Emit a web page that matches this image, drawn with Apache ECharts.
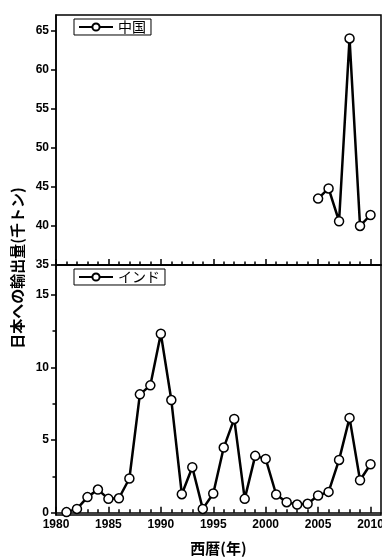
<!DOCTYPE html>
<html>
<head>
<meta charset="utf-8">
<script src="https://cdn.jsdelivr.net/npm/echarts@6/dist/echarts.min.js"></script>
<style>
  html, body { margin: 0; padding: 0; background: #fff; }
  #chart { width: 382px; height: 559px; }
</style>
</head>
<body>
<div id="chart"></div>
<script>
const years = [1981, 1982, 1983, 1984, 1985, 1986, 1987, 1988, 1989, 1990,
  1991, 1992, 1993, 1994, 1995, 1996, 1997, 1998, 1999, 2000,
  2001, 2002, 2003, 2004, 2005, 2006, 2007, 2008, 2009, 2010]
const indiaValues = [0.05, 0.27, 1.08, 1.6, 0.96, 1.0, 2.36, 8.15, 8.77, 12.32,
  7.76, 1.28, 3.14, 0.27, 1.33, 4.49, 6.46, 0.96, 3.92, 3.71,
  1.26, 0.73, 0.57, 0.62, 1.19, 1.44, 3.64, 6.53, 2.24, 3.34]
const chinaYears = [2005, 2006, 2007, 2008, 2009, 2010]
const chinaValues = [43.5, 44.8, 40.6, 64.0, 40.0, 41.4]

const yearTicks = [1980, 1985, 1990, 1995, 2000, 2005, 2010]
const yearMinorTicks = years.concat([1980])
const chinaTicks = [35, 40, 45, 50, 55, 60, 65]
const indiaTicks = [0, 5, 10, 15]
const indiaMinorTicks = [2.5, 7.5, 12.5]

const numFont = { fontFamily: 'Liberation Sans', fontWeight: 'bold', fontSize: 12, color: '#000' }
const jpFont = 'Noto Sans CJK JP'
const black = { color: '#000', width: 1.5 }

const chart = echarts.init(document.getElementById('chart'))

function xAxes(gridIndex, withLabels) {
  return [
    {
      type: 'value', gridIndex, position: 'bottom', min: 1980, max: 2011,
      axisLine: { show: true, lineStyle: black },
      axisTick: { show: true, inside: true, length: 6, lineStyle: black, customValues: yearTicks },
      axisLabel: withLabels
        ? Object.assign({ margin: 4, customValues: yearTicks, formatter: v => String(v) }, numFont)
        : { show: false },
      splitLine: { show: false },
      name: withLabels ? '西暦(年)' : '',
      nameLocation: 'middle',
      nameGap: 26,
      nameTextStyle: { fontFamily: jpFont, fontWeight: 'bold', fontSize: 15, color: '#000' }
    },
    {
      type: 'value', gridIndex, position: 'bottom', min: 1980, max: 2011,
      axisLine: { show: false },
      axisTick: { show: true, inside: true, length: 3.5, lineStyle: black, customValues: yearMinorTicks },
      axisLabel: { show: false },
      splitLine: { show: false }
    }
  ]
}

function legendFor(name, top) {
  return {
    data: [name], left: 74, top,
    padding: [1, 5, 1, 4], itemGap: 0, itemWidth: 34, itemHeight: 9,
    borderColor: '#000', borderWidth: 1, backgroundColor: '#fff',
    textStyle: { fontFamily: jpFont, fontSize: 14, color: '#000' }
  }
}

const option = {
  backgroundColor: '#fff',
  animation: false,
  grid: [
    { left: 56, right: 1, top: 15, height: 250, outerBoundsMode: 'none', show: true, borderColor: '#000', borderWidth: 1.5 },
    { left: 56, right: 1, top: 265, height: 250, outerBoundsMode: 'none', show: true, borderColor: '#000', borderWidth: 1.5 }
  ],
  xAxis: xAxes(0, false).concat(xAxes(1, true)),
  yAxis: [
    {
      type: 'value', gridIndex: 0, position: 'left', min: 35, max: 67,
      axisLine: { show: true, lineStyle: black },
      axisTick: { show: true, length: 5, lineStyle: black, customValues: chinaTicks },
      axisLabel: Object.assign({ margin: 7, customValues: chinaTicks }, numFont),
      splitLine: { show: false }
    },
    {
      type: 'value', gridIndex: 1, position: 'left', min: -0.15, max: 17.05,
      axisLine: { show: true, lineStyle: black },
      axisTick: { show: true, length: 5, lineStyle: black, customValues: indiaTicks },
      axisLabel: Object.assign({ margin: 7, customValues: indiaTicks }, numFont),
      splitLine: { show: false }
    },
    {
      type: 'value', gridIndex: 1, position: 'left', min: -0.15, max: 17.05,
      axisLine: { show: false },
      axisTick: { show: true, length: 3.5, lineStyle: black, customValues: indiaMinorTicks },
      axisLabel: { show: false },
      splitLine: { show: false }
    }
  ],
  legend: [legendFor('中国', 19), legendFor('インド', 269)],
  graphic: [
    {
      type: 'text', x: 17, y: 268, rotation: Math.PI / 2,
      style: {
        text: '日本への輸出量(千トン)', fill: '#000',
        font: 'bold 15px "Noto Sans CJK JP"',
        align: 'center', verticalAlign: 'middle'
      }
    }
  ],
  series: [
    {
      name: '中国', type: 'line', xAxisIndex: 0, yAxisIndex: 0,
      data: chinaYears.map((y, i) => [y, chinaValues[i]]),
      symbol: 'circle', symbolSize: 9,
      lineStyle: { color: '#000', width: 2.5 },
      itemStyle: { color: '#fff', borderColor: '#000', borderWidth: 1.5 }
    },
    {
      name: 'インド', type: 'line', xAxisIndex: 2, yAxisIndex: 1,
      data: years.map((y, i) => [y, indiaValues[i]]),
      symbol: 'circle', symbolSize: 9,
      lineStyle: { color: '#000', width: 2.5 },
      itemStyle: { color: '#fff', borderColor: '#000', borderWidth: 1.5 }
    }
  ]
}

chart.setOption(option)
</script>
</body>
</html>
